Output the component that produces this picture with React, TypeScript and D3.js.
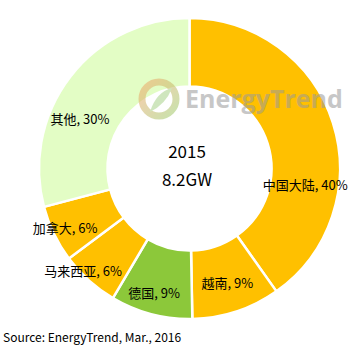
import React from "react";
import * as d3 from "d3";

const categories = ["中国大陆", "越南", "德国", "马来西亚", "加拿大", "其他"];
const shares = [40.2, 9.5, 8.8, 6.3, 6.1, 29.1];
const labelPercents = ["40%", "9%", "9%", "6%", "6%", "30%"];
const sliceColors = ["#FFC000", "#FFC000", "#8CC83A", "#FFC000", "#FFC000", "#E3FDC5"];
const centerLines = ["2015", "8.2GW"];
const sourceText = "Source: EnergyTrend, Mar., 2016";

const W = 360, H = 350;
const cx = 189.5, cy = 168.5;
const rOuter = 150.5, rInner = 82;
// label layout: radius + angle tweak (degrees) per slice
const labelR = [117, 121, 130, 148, 138, 120];
const labelAngleShift = [26, 0, 1, 4, 0, -13.5];

export default function App() {
  const pie = d3.pie<number>().sort(null).value((d) => d);
  const arcs = pie(shares);
  const arcGen = d3.arc<d3.PieArcDatum<number>>().innerRadius(rInner).outerRadius(rOuter);
  const font = "'Noto Sans CJK SC', 'Noto Sans', sans-serif";
  return (
    <svg width={W} height={H} style={{ position: "absolute", left: 0, top: 0 }}>
      <defs>
        <linearGradient id="logoG" x1="0" y1="0" x2="1" y2="1">
          <stop offset="0" stopColor="#F4A46A" />
          <stop offset="1" stopColor="#9CCB6A" />
        </linearGradient>
      </defs>
      <rect width={W} height={H} fill="#fff" />
      <g transform={`translate(${cx},${cy})`}>
        {arcs.map((a, i) => (
          <path key={i} d={arcGen(a) || ""} fill={sliceColors[i]} stroke="#fff" strokeWidth={2.5} />
        ))}
      </g>
      {/* watermark */}
      <g opacity={0.55}>
        <circle cx={159} cy={99} r={17} fill="none" stroke="url(#logoG)" strokeWidth={7} />
        <path d="M150,112 Q156,92 172,88 Q166,104 150,112 Z" fill="#A9D38A" />
        <text x={185} y={108} fontFamily="'Open Sans', sans-serif" fontWeight={700} fontSize={25} fill="#9a9a9a">
          EnergyTrend
        </text>
      </g>
      {arcs.map((a, i) => {
        const ang = (a.startAngle + a.endAngle) / 2 + (labelAngleShift[i] * Math.PI) / 180;
        const x = cx + labelR[i] * Math.sin(ang);
        const y = cy - labelR[i] * Math.cos(ang);
        return (
          <text key={i} x={x} y={y} dy="0.36em" textAnchor="middle" fontFamily={font} fontSize={13} fill="#000">
            {`${categories[i]}, ${labelPercents[i]}`}
          </text>
        );
      })}
      <text x={187} y={158} textAnchor="middle" fontFamily={font} fontSize={17} fill="#000">{centerLines[0]}</text>
      <text x={187} y={186} textAnchor="middle" fontFamily={font} fontSize={17} fill="#000">{centerLines[1]}</text>
      <text x={3} y={342} fontFamily={font} fontSize={12} fill="#000">{sourceText}</text>
    </svg>
  );
}
